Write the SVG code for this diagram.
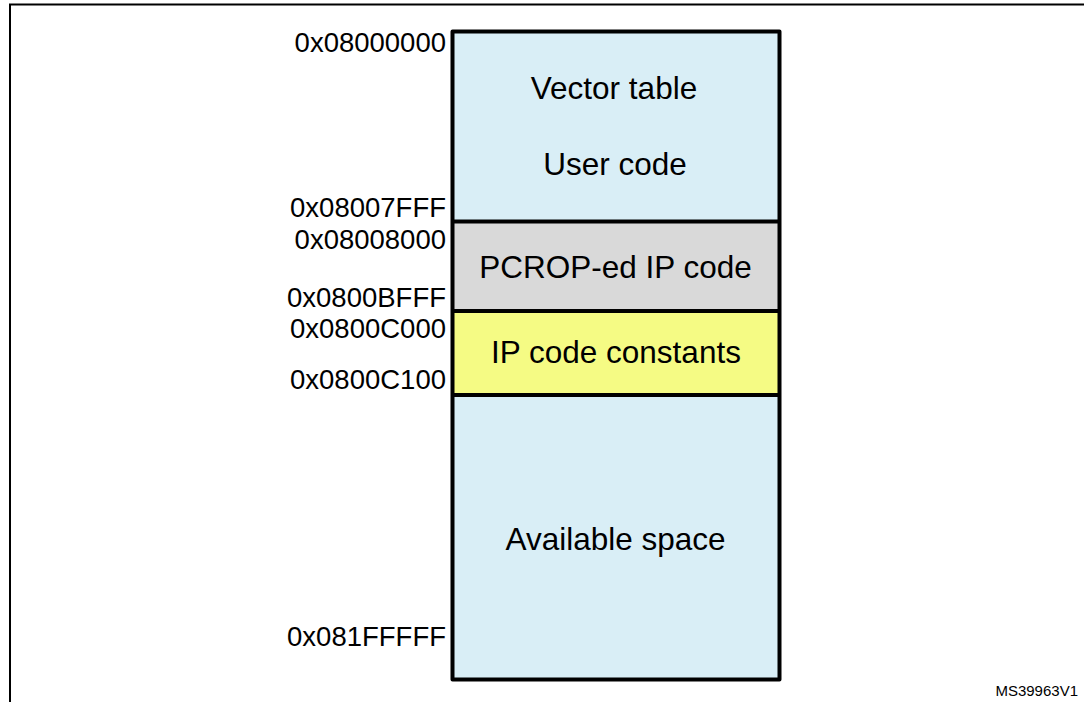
<svg xmlns="http://www.w3.org/2000/svg" width="1084" height="702" viewBox="0 0 1084 702">
  <style>
    .frame { fill: none; stroke: #000; stroke-width: 2; }
    .region { stroke: none; }
    .blue { fill: #D9EEF6; }
    .grey { fill: #D9D9D9; }
    .yellow { fill: #F5FB84; }
    .edge { fill: none; stroke: #000; stroke-width: 4; stroke-linejoin: round; }
    .label { font-family: "Liberation Sans", Arial, sans-serif; font-size: 31.5px; fill: #000; text-anchor: middle; }
    .addr { font-family: "Liberation Sans", Arial, sans-serif; font-size: 27.5px; fill: #000; text-anchor: end; }
    .ref { font-family: "Liberation Sans", Arial, sans-serif; font-size: 15px; fill: #000; text-anchor: end; }
  </style>

  <rect width="1084" height="702" fill="#fff"/>

  <!-- figure frame -->
  <path class="frame" d="M10 702 V4.5 H1084"/>

  <!-- memory map regions -->
  <g id="user-code">
    <rect class="region blue" x="452.5" y="31.5" width="327" height="190"/>
    <text class="label" x="614" y="99">Vector table</text>
    <text class="label" x="615" y="175">User code</text>
  </g>
  <g id="pcrop-ip-code">
    <rect class="region grey" x="452.5" y="221.5" width="327" height="89.5"/>
    <text class="label" x="615.5" y="278">PCROP-ed IP code</text>
  </g>
  <g id="ip-code-constants">
    <rect class="region yellow" x="452.5" y="311" width="327" height="84"/>
    <text class="label" x="616" y="363">IP code constants</text>
  </g>
  <g id="available-space">
    <rect class="region blue" x="452.5" y="395" width="327" height="284.5"/>
    <text class="label" x="615.5" y="550">Available space</text>
  </g>

  <!-- region outlines and boundaries -->
  <g id="outline">
    <rect class="edge" x="452.5" y="31.5" width="327" height="648"/>
    <line class="edge" x1="452.5" y1="221.5" x2="779.5" y2="221.5"/>
    <line class="edge" x1="452.5" y1="311" x2="779.5" y2="311"/>
    <line class="edge" x1="452.5" y1="395" x2="779.5" y2="395"/>
  </g>

  <!-- boundary addresses -->
  <g id="addresses">
    <text class="addr" x="446" y="52">0x08000000</text>
    <text class="addr" x="446" y="217">0x08007FFF</text>
    <text class="addr" x="446" y="249">0x08008000</text>
    <text class="addr" x="446" y="307">0x0800BFFF</text>
    <text class="addr" x="446" y="338">0x0800C000</text>
    <text class="addr" x="446" y="389">0x0800C100</text>
    <text class="addr" x="446" y="646">0x081FFFFF</text>
  </g>

  <text class="ref" x="1078" y="696">MS39963V1</text>
</svg>
